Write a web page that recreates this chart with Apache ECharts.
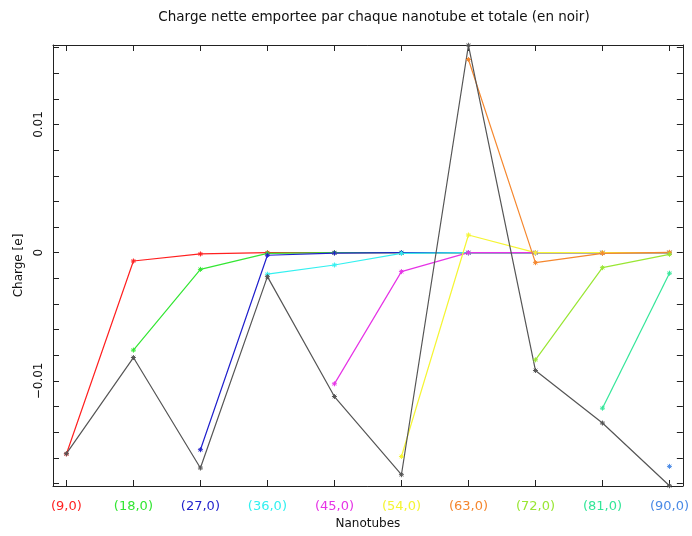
<!DOCTYPE html>
<html>
<head>
<meta charset="utf-8">
<script src="https://cdn.jsdelivr.net/npm/echarts@6/dist/echarts.min.js"></script>
<style>
  html, body { margin: 0; padding: 0; background: #fff; }
  #chart { width: 692px; height: 536px; }
</style>
</head>
<body>
<div id="chart"></div>
<script>
// nanotube categories (x positions 1..10)
var categories = ['(9,0)', '(18,0)', '(27,0)', '(36,0)', '(45,0)', '(54,0)', '(63,0)', '(72,0)', '(81,0)', '(90,0)']
var catColors = ['#ff1f1f', '#33e633', '#1f1fcc', '#33f0f0', '#e633e6', '#f5f533', '#f5872e', '#99e633', '#33e699', '#4a8ae6']

// charge per nanotube (null = not present)
var c9 = [-0.0157, -0.00065, -0.0001, 0, 0, 0, 0, 0, 0, 0]
var c18 = [null, -0.0076, -0.0013, -0.00005, 0, 0, 0, 0, 0, 0]
var c27 = [null, null, -0.01537, -0.0002, -0.00003, 0, 0, 0, 0, 0]
var c36 = [null, null, null, -0.00168, -0.00096, -0.00005, 0, 0, 0, 0]
var c45 = [null, null, null, null, -0.01023, -0.00148, 0, 0, 0, 0]
var c54 = [null, null, null, null, null, -0.0159, 0.00138, 0, 0, 0]
var c63 = [null, null, null, null, null, null, 0.01507, -0.00078, -0.00005, 0.00003]
var c72 = [null, null, null, null, null, null, null, -0.00836, -0.00117, -0.00013]
var c81 = [null, null, null, null, null, null, null, null, -0.01213, -0.0016]
var c90 = [null, null, null, null, null, null, null, null, null, -0.01667]
// total (black)
var total = [-0.01568, -0.00818, -0.0168, -0.00187, -0.01122, -0.01732, 0.01618, -0.00919, -0.01329, -0.01818]

var yLabels = [-0.01, 0, 0.01]
var yTicks = [-0.018, -0.016, -0.014, -0.012, -0.01, -0.008, -0.006, -0.004, -0.002, 0, 0.002, 0.004, 0.006, 0.008, 0.01, 0.012, 0.014, 0.016]
var xTicks = [1, 2, 3, 4, 5, 6, 7, 8, 9, 10]

var chart = echarts.init(document.getElementById('chart'))

function toPoints(arr) {
  var pts = []
  for (var i = 0; i < arr.length; i++) {
    if (arr[i] !== null) pts.push([i + 1, arr[i]])
  }
  return pts
}

// asterisk marker
var star = 'path://M0,-5L0,5M-5,0L5,0M-3.5,-3.5L3.5,3.5M-3.5,3.5L3.5,-3.5'

function lineSeries(arr, color) {
  return {
    type: 'line',
    data: toPoints(arr),
    symbol: star,
    symbolSize: 5,
    showSymbol: true,
    itemStyle: { color: 'none', borderColor: color, borderWidth: 1 },
    lineStyle: { color: color, width: 1.2 },
    animation: false
  }
}

var rich = {}
categories.forEach(function (c, i) {
  rich['c' + i] = { color: catColors[i], fontSize: 13, fontFamily: 'DejaVu Sans' }
})

var seriesArr = [c9, c18, c27, c36, c45, c54, c63, c72, c81, c90]
var series = seriesArr.map(function (arr, i) {
  return lineSeries(arr, catColors[i])
})
series.push(lineSeries(total, '#555555'))

var axisLineStyle = { show: true, onZero: false, lineStyle: { color: '#222', width: 1 } }

var option = {
  backgroundColor: '#fff',
  title: {
    text: 'Charge nette emportee par chaque nanotube et totale (en noir)',
    left: 369,
    textAlign: 'center',
    top: 5,
    textStyle: { fontSize: 13.5, fontWeight: 'normal', color: '#111', fontFamily: 'DejaVu Sans' }
  },
  grid: { left: 53, right: 7, top: 45, bottom: 50 },
  xAxis: [
    {
      type: 'value',
      min: 0.8,
      max: 10.2,
      position: 'bottom',
      name: 'Nanotubes',
      nameLocation: 'middle',
      nameGap: 32,
      nameTextStyle: { fontSize: 12, color: '#111', fontFamily: 'DejaVu Sans' },
      axisLine: axisLineStyle,
      splitLine: { show: false },
      axisTick: { inside: true, length: 6, customValues: xTicks, lineStyle: { color: '#222' } },
      axisLabel: {
        customValues: xTicks,
        margin: 14,
        formatter: function (v) {
          var i = Math.round(v) - 1
          return '{c' + i + '|' + categories[i] + '}'
        },
        rich: rich
      }
    },
    {
      type: 'value',
      min: 0.8,
      max: 10.2,
      position: 'top',
      axisLine: axisLineStyle,
      splitLine: { show: false },
      axisTick: { inside: true, length: 6, customValues: xTicks, lineStyle: { color: '#222' } },
      axisLabel: { show: false }
    }
  ],
  yAxis: [
    {
      type: 'value',
      min: -0.0182,
      max: 0.0162,
      position: 'left',
      name: 'Charge [e]',
      nameLocation: 'middle',
      nameGap: 25,
      nameTextStyle: { fontSize: 12, color: '#111', fontFamily: 'DejaVu Sans' },
      axisLine: axisLineStyle,
      splitLine: { show: false },
      axisTick: { inside: true, length: 6, customValues: yTicks, lineStyle: { color: '#222' } },
      axisLabel: {
        customValues: yLabels,
        rotate: 90,
        margin: 8,
        fontSize: 12,
        color: '#111',
        fontFamily: 'DejaVu Sans',
        formatter: function (v) {
          if (Math.abs(v) < 1e-9) return '0'
          return (v < 0 ? '\u22120.01' : '0.01')
        }
      }
    },
    {
      type: 'value',
      min: -0.0182,
      max: 0.0162,
      position: 'right',
      axisLine: axisLineStyle,
      splitLine: { show: false },
      axisTick: { inside: true, length: 6, customValues: yTicks, lineStyle: { color: '#222' } },
      axisLabel: { show: false }
    }
  ],
  series: series
}

chart.setOption(option)
</script>
</body>
</html>
